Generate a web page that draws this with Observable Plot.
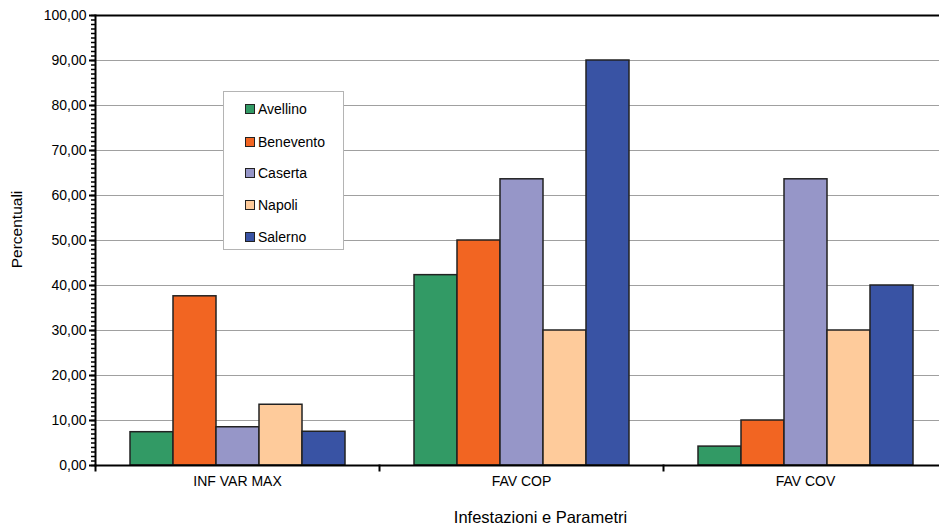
<!DOCTYPE html>
<html>
<head>
<meta charset="utf-8">
<script src="https://cdn.jsdelivr.net/npm/d3@7"></script>
<script src="https://cdn.jsdelivr.net/npm/@observablehq/plot@0.6"></script>
<style>
  body { margin: 0; background: #fff; font-family: "Liberation Sans", Arial, sans-serif; }
  #wrap { position: relative; width: 939px; height: 525px; overflow: hidden; }
  #legend { position: absolute; left: 223px; top: 91px; width: 121px; height: 159px;
            border: 1px solid #b4b4b4; background: #fff; box-sizing: border-box; }
  .item { position: absolute; left: 21px; height: 16px; line-height: 16px; font-size: 14px; color: #000; white-space: nowrap; }
  .sw { display: inline-block; width: 10px; height: 10px; border: 1.5px solid #222; box-sizing: border-box;
        vertical-align: middle; margin-right: 3px; position: relative; top: -1px; }
</style>
</head>
<body>
<div id="wrap"><div id="chart"></div><div id="legend"></div></div>
<script>
const categories = ["INF VAR MAX", "FAV COP", "FAV COV"];
const provinces = ["Avellino", "Benevento", "Caserta", "Napoli", "Salerno"];
const avellino  = [7.4, 42.3, 4.2];
const benevento = [37.6, 50.0, 10.0];
const caserta   = [8.5, 63.6, 63.6];
const napoli    = [13.5, 30.0, 30.0];
const salerno   = [7.5, 90.0, 40.0];
const colors = ["#329a65", "#f26522", "#9696c8", "#fecb9b", "#3953a4"];
const majorTicks = [0, 10, 20, 30, 40, 50, 60, 70, 80, 90, 100];
const minorTicks = d3.range(0, 101, 1);
const gridValues = [10, 20, 30, 40, 50, 60, 70, 80, 90];
const yLabel = "Percentuali";
const xLabel = "Infestazioni e Parametri";

const series = [avellino, benevento, caserta, napoli, salerno];
const table = [];
categories.forEach((c, ci) => provinces.forEach((p, pi) => table.push({category: c, province: p, value: series[pi][ci]})));

const W = 939, H = 525, mt = 15, mb = 60, ml = 95, mr = -8;
const facetW = (W - ml - mr) / categories.length;
const fmt = v => d3.format(".2f")(v).replace(".", ",");

const chart = Plot.plot({
  width: W, height: H,
  marginLeft: ml, marginRight: mr, marginTop: mt, marginBottom: mb,
  style: { fontFamily: "Liberation Sans, Arial, sans-serif", fontSize: "14px", color: "#000", background: "#fff" },
  fx: { domain: categories, padding: 0, label: null, axis: null },
  x: { domain: provinces, paddingInner: 0, paddingOuter: 0.757, axis: null },
  y: { domain: [0, 100], axis: null },
  color: { domain: provinces, range: colors },
  marks: [
    Plot.ruleY(gridValues, { stroke: "#a0a0a0", strokeWidth: 1 }),
    Plot.barY(table, { fx: "category", x: "province", y: "value", fill: "province", stroke: "#222", strokeWidth: 1.5 }),
    Plot.ruleY([0], { stroke: "#000", strokeWidth: 2 }),
    Plot.ruleY([100], { stroke: "#000", strokeWidth: 2 }),
    Plot.frame({ anchor: "left", facetAnchor: "left", stroke: "#000", strokeWidth: 2 }),
    Plot.frame({ anchor: "left", stroke: "#000", strokeWidth: 2, insetTop: H - mt - mb, insetBottom: -5 }),
    Plot.ruleY(minorTicks, { facetAnchor: "left", insetLeft: -4, insetRight: facetW, stroke: "#000", strokeWidth: 1.5 }),
    Plot.ruleY(majorTicks, { facetAnchor: "left", insetLeft: -6, insetRight: facetW, stroke: "#000", strokeWidth: 2 }),
    Plot.axisY({ ticks: majorTicks, tickSize: 6, tickPadding: 3, tickFormat: fmt, stroke: "none", fontSize: 14, label: null }),
    Plot.axisFx({ anchor: "bottom", tickSize: 0, tickPadding: 11, label: null, fontSize: 14 }),
    Plot.text([yLabel], { facet: "super", frameAnchor: "left", rotate: -90, lineAnchor: "top", textAnchor: "middle",
                          dx: -85, dy: -11, fontSize: 15.5, fill: "#000" }),
    Plot.text([xLabel], { facet: "super", frameAnchor: "bottom", lineAnchor: "middle", textAnchor: "middle",
                          dx: 19, dy: 52, fontSize: 16.5, fill: "#000" })
  ]
});
document.getElementById("chart").appendChild(chart);

const legend = document.getElementById("legend");
const tops = [9, 42, 73, 105, 137];
provinces.forEach((p, i) => {
  const it = document.createElement("div");
  it.className = "item";
  it.style.top = tops[i] + "px";
  const sw = document.createElement("span");
  sw.className = "sw";
  sw.style.background = colors[i];
  it.appendChild(sw);
  it.appendChild(document.createTextNode(p));
  legend.appendChild(it);
});
</script>
</body>
</html>
